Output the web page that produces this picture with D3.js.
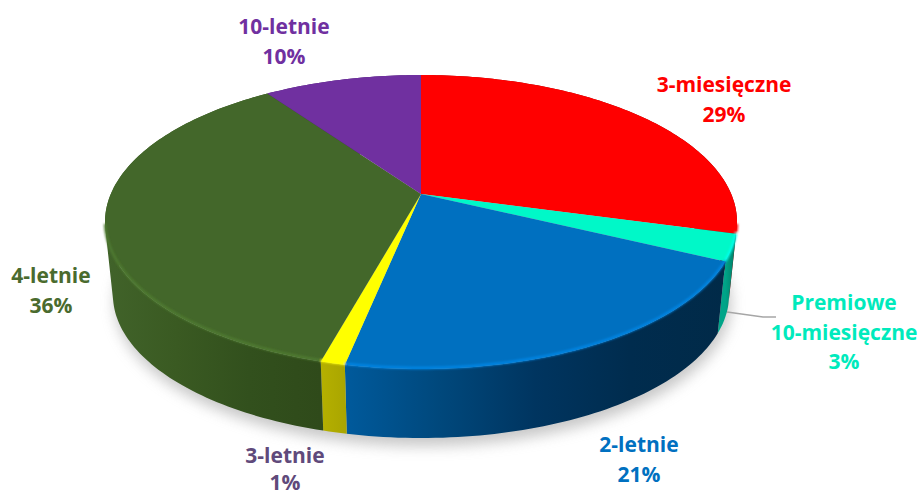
<!DOCTYPE html>
<html>
<head>
<meta charset="utf-8">
<script src="https://d3js.org/d3.v7.min.js"></script>
<style>
  html, body { margin: 0; padding: 0; background: #fff; }
  svg { display: block; }
  text { font-family: "Open Sans", sans-serif; font-weight: 700; font-size: 21px; text-anchor: middle; }
</style>
</head>
<body>
<div id="chart"></div>
<script>
// values, the labels show them rounded
const categories = ["3-miesięczne", "Premiowe 10-miesięczne", "2-letnie", "3-letnie", "4-letnie", "10-letnie"];
const values = [29.3, 2.9, 21.0, 1.05, 36.05, 9.7];

const topColors = ["#ff0000", "#00f8c8", "#0070c0", "#ffff00", "#43672a", "#7030a0"];
const textColors = ["#ff0000", "#00eabc", "#0070c0", "#604a7b", "#4a6b2e", "#7030a0"];
// side wall colours, left to right
const sideStops = [
    ["#a00000", "#8a0000"],
    ["#00a488", "#007a64"],
    ["#005a9c", "#00487c", "#003560", "#002c4e", "#012a48"],
    ["#b5b000", "#aaa600"],
    ["#41632a", "#3a5a22", "#32501d", "#2f4a1a"],
    ["#4a2070", "#4a2070"]
];
const labelSpots = [[724, 85], [844, 303], [639, 445], [285, 456], [51, 276], [284, 27]];

const width = 918, height = 495;
const cx = 421, cy = 222;
const ry = 147, apexShift = -28;
const tilt = (apexShift / ry);            // perspective of the disc
const rx = 316 * Math.sqrt(1 - tilt * tilt);

// disc angle to the picture, the centre lands on the slice apex
function rim(a) {
    const u = Math.sin(a), v = -Math.cos(a);
    const w = 1 + tilt * v;
    return [cx + rx * u / w, cy + (ry * v + apexShift) / w];
}
function rimBottom(a) {
    const p = rim(a);
    return [cx + (p[0] - cx) * 0.975, cy + (p[1] - cy) * 0.975 + 72.7];
}
function arcAngles(d) {
    const n = Math.max(2, Math.ceil((d.endAngle - d.startAngle) / 0.02));
    return d3.range(n + 1).map(i => d.startAngle + (d.endAngle - d.startAngle) * i / n);
}

const svg = d3.select("#chart").append("svg").attr("width", width).attr("height", height);
const defs = svg.append("defs");
defs.append("filter").attr("id", "shadow").attr("x", "-10%").attr("y", "-20%").attr("width", "120%").attr("height", "140%")
    .append("feGaussianBlur").attr("stdDeviation", 7);
defs.append("filter").attr("id", "soft")
    .attr("filterUnits", "userSpaceOnUse")
    .attr("x", 0).attr("y", 0).attr("width", width).attr("height", height)
    .append("feGaussianBlur").attr("stdDeviation", 1.2);

const pie = d3.pie().sort(null).value(d => d);
const slices = pie(values);
const line = d3.line();
const fullCircle = d3.range(0, 2 * Math.PI + 0.02, 0.02);

// soft shadow under the disc
svg.append("path")
    .attr("d", line(fullCircle.map(a => { const p = rimBottom(a); return [p[0] + 2, p[1] + 8]; })) + "Z")
    .attr("fill", "#9a9a9a")
    .attr("opacity", 0.55)
    .attr("filter", "url(#shadow)");

slices.forEach((d, i) => {
    const xs = arcAngles(d).map(a => rim(a)[0]);
    const g = defs.append("linearGradient").attr("id", "side" + i)
        .attr("gradientUnits", "userSpaceOnUse")
        .attr("x1", d3.min(xs)).attr("x2", d3.max(xs)).attr("y1", 0).attr("y2", 0);
    sideStops[i].forEach((c, k) => g.append("stop")
        .attr("offset", k / (sideStops[i].length - 1))
        .attr("stop-color", c));
});

// side wall, swept in small quads so the silhouette stays straight at both ends
// all quads wound the same way, otherwise overlaps cancel out under nonzero fill
svg.append("g").selectAll("path").data(slices).join("path")
    .attr("d", d => {
        const as = arcAngles(d);
        return d3.pairs(as).map(([a, b]) => {
            const quad = [rim(a), rim(b), rimBottom(b), rimBottom(a)];
            if (d3.polygonArea(quad) < 0) quad.reverse();
            return line(quad) + "Z";
        }).join("");
    })
    .attr("fill", (d, i) => `url(#side${i})`);

// top face
svg.append("g").selectAll("path").data(slices).join("path")
    .attr("d", d => line([[cx, cy + apexShift]].concat(arcAngles(d).map(rim))) + "Z")
    .attr("fill", (d, i) => topColors[i]);

// lighter bevel along the front rim
svg.append("g").attr("filter", "url(#soft)").selectAll("path").data(slices).join("path")
    .attr("d", d => line(arcAngles(d)
        .filter(a => -Math.cos(a) > 0.2)
        .map(a => { const p = rim(a); return [p[0], p[1] - 1]; })))
    .attr("fill", "none")
    .attr("stroke", (d, i) => d3.color(topColors[i]).brighter(0.5))
    .attr("stroke-width", 2.5);

// leader of the small slice
svg.append("path")
    .attr("d", line([[727, 312], [763, 317], [776, 317]]))
    .attr("fill", "none")
    .attr("stroke", "#a6a6a6")
    .attr("stroke-width", 1.5);

// labels
const labels = svg.append("g").selectAll("text").data(slices).join("text")
    .attr("x", (d, i) => labelSpots[i][0])
    .attr("y", (d, i) => labelSpots[i][1] + 7)
    .attr("fill", (d, i) => textColors[i]);

labels.each(function (d, i) {
    const el = d3.select(this);
    const x = labelSpots[i][0];
    const gap = i === 3 ? 27 : 29.5;  // bottom label has to stay inside the picture
    const parts = categories[i] === "Premiowe 10-miesięczne" ? ["Premiowe", "10-miesięczne"] : [categories[i]];
    parts.concat(Math.round(d.value) + "%").forEach((t, k) => {
        el.append("tspan").attr("x", x).attr("dy", k ? gap : 0).text(t);
    });
});
</script>
</body>
</html>
